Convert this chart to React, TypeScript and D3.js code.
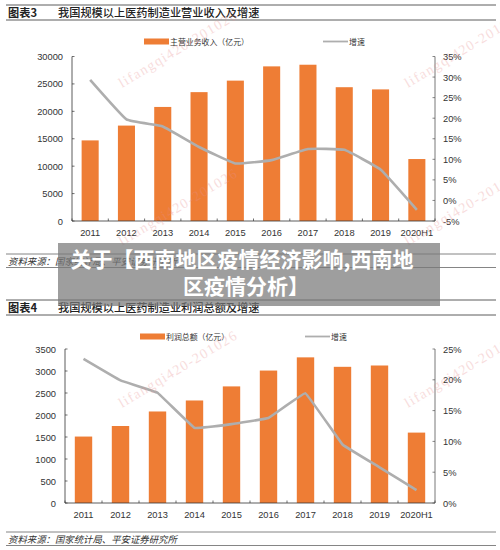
import React from "react";
import * as d3 from "d3";

const years = ["2011","2012","2013","2014","2015","2016","2017","2018","2019","2020H1"];
const revenue = [14700,17400,20800,23500,25600,28200,28500,24400,24000,11300];
const revenueGrowth = [29.3,19.7,18,13,9,9.8,12.5,12.3,7.5,-2.3];
const profit = [1510,1750,2080,2330,2650,3010,3310,3095,3125,1600];
const profitGrowth = [23.4,19.9,17.9,12.2,12.8,13.8,17.8,9.5,5.8,2.1];
const revenueTicks = [0,5000,10000,15000,20000,25000,30000];
const revenueGrowthTicks = [-5,0,5,10,15,20,25,30,35];
const profitTicks = [0,500,1000,1500,2000,2500,3000,3500];
const profitGrowthTicks = [0,5,10,15,20,25];

const SANS = "'Liberation Sans', Arial, sans-serif";
const CJK = "'Noto Sans CJK SC', sans-serif";
const ORANGE = "#ee7d35";
const GREY = "#aeaeae";
const TEXT = "#333";

type ChartProps = {
  x0: number; x1: number; yTop: number; yBottom: number;
  values: number[]; growth: number[];
  leftDomain: [number, number]; rightDomain: [number, number];
  leftTicks: number[]; rightTicks: number[];
  legendBarX: number; legendLineX: number; legendY: number; legendName: string;
  curve: d3.CurveFactory;
};

function Chart(p: ChartProps) {
  const x = d3.scaleBand<string>().domain(years).range([p.x0, p.x1]).paddingInner(0).paddingOuter(0);
  const yL = d3.scaleLinear().domain(p.leftDomain).range([p.yBottom, p.yTop]);
  const yR = d3.scaleLinear().domain(p.rightDomain).range([p.yBottom, p.yTop]);
  const barW = x.bandwidth() * 0.47;
  const cx = (d: string) => x(d)! + x.bandwidth() / 2;
  const line = d3.line<number>().x((_, i) => cx(years[i])).y(v => yR(v)).curve(p.curve);
  const edges = [...years.map(y => x(y)!), p.x1];
  return (
    <g>
      {years.map((y, i) => (
        <rect key={y} x={cx(y) - barW / 2} width={barW} y={yL(p.values[i])}
          height={p.yBottom - yL(p.values[i])} fill={ORANGE} />
      ))}
      <path d={line(p.growth) ?? ""} fill="none" stroke={GREY} strokeWidth={2.6} strokeLinejoin="round" />
      <line x1={p.x0} x2={p.x0} y1={p.yTop} y2={p.yBottom} stroke="#333" strokeWidth={0.8} />
      <line x1={p.x1} x2={p.x1} y1={p.yTop} y2={p.yBottom} stroke="#555" strokeWidth={0.8} />
      <line x1={p.x0} x2={p.x1} y1={p.yBottom} y2={p.yBottom} stroke="#333" strokeWidth={0.8} />
      {edges.map((e, i) => (
        <line key={i} x1={e} x2={e} y1={p.yBottom} y2={p.yBottom - 2.5} stroke="#333" strokeWidth={0.7} />
      ))}
      {p.leftTicks.map(t => (
        <g key={t}>
          <line x1={p.x0} x2={p.x0 + 2.5} y1={yL(t)} y2={yL(t)} stroke="#333" strokeWidth={0.7} />
          <text x={p.x0 - 9} y={yL(t) + 3.5} textAnchor="end" fontFamily={SANS} fontSize={9.3} fill={TEXT}>{t}</text>
        </g>
      ))}
      {p.rightTicks.map(t => (
        <g key={t}>
          <line x1={p.x1} x2={p.x1 - 2.5} y1={yR(t)} y2={yR(t)} stroke="#555" strokeWidth={0.7} />
          <text x={p.x1 + 8} y={yR(t) + 3.5} fontFamily={SANS} fontSize={9.3} fill={TEXT}>{t}%</text>
        </g>
      ))}
      {years.map(y => (
        <text key={y} x={cx(y)} y={p.yBottom + 14.5} textAnchor="middle" fontFamily={SANS} fontSize={9.3} fill={TEXT}>{y}</text>
      ))}
      <rect x={p.legendBarX} y={p.legendY - 3} width={25} height={6} fill={ORANGE} />
      <text x={p.legendBarX + 26} y={p.legendY + 3} fontFamily={CJK} fontSize={7.9} fill={TEXT}>{p.legendName}</text>
      <line x1={p.legendLineX} x2={p.legendLineX + 25} y1={p.legendY} y2={p.legendY} stroke={GREY} strokeWidth={1.8} />
      <text x={p.legendLineX + 26} y={p.legendY + 3} fontFamily={CJK} fontSize={7.9} fill={TEXT}>增速</text>
    </g>
  );
}

function Header({ y, num, title }: { y: number; num: string; title: string }) {
  return (
    <g>
      <line x1={6} x2={496} y1={y} y2={y} stroke="#333" strokeWidth={0.8} />
      <line x1={6} x2={496} y1={y + 15} y2={y + 15} stroke="#333" strokeWidth={0.8} />
      <text x={8} y={y + 12} fontFamily={CJK} fontWeight={700} fontSize={11.2} fill="#222">{num}</text>
      <text x={58} y={y + 12} fontFamily={CJK} fontWeight={500} fontSize={11.2} fill="#222">{title}</text>
    </g>
  );
}

function Source({ y }: { y: number }) {
  return (
    <g>
      <line x1={6} x2={496} y1={y} y2={y} stroke="#666" strokeWidth={0.8} />
      <line x1={6} x2={496} y1={y + 13.5} y2={y + 13.5} stroke="#666" strokeWidth={0.8} />
      <text x={8} y={y + 10.5} fontFamily={CJK} fontStyle="italic" fontSize={9.4} fill="#333" style={{ fontKerning: "none" }}>资料来源：国家统计局、平安证券研究所</text>
    </g>
  );
}

function Watermark({ x, y }: { x: number; y: number }) {
  return (
    <text transform={`translate(${x},${y}) rotate(-31)`} fontFamily="'Liberation Serif', serif" fontSize={14}
      letterSpacing={1.4} fill="#e88f8f" opacity={0.3}>lifangqi420-201026</text>
  );
}

export default function App() {
  return (
    <svg width={500} height={550} style={{ position: "absolute", left: 0, top: 0, background: "#fff" }}>
      <Header y={5} num="图表3" title="我国规模以上医药制造业营业收入及增速" />
      <Chart x0={72} x1={435} yTop={56.5} yBottom={221} values={revenue} growth={revenueGrowth}
        leftDomain={[0, 30000]} rightDomain={[-5, 35]} leftTicks={revenueTicks} rightTicks={revenueGrowthTicks}
        legendBarX={144} legendLineX={323} legendY={41.5} legendName="主营业务收入（亿元）" curve={d3.curveCardinal.tension(0.7)} />
      <Source y={254} />
      <Header y={300} num="图表4" title="我国规模以上医药制造业利润总额及增速" />
      <Chart x0={65} x1={435} yTop={349} yBottom={503} values={profit} growth={profitGrowth}
        leftDomain={[0, 3500]} rightDomain={[0, 25]} leftTicks={profitTicks} rightTicks={profitGrowthTicks}
        legendBarX={140} legendLineX={305} legendY={336.5} legendName="利润总额（亿元）" curve={d3.curveCardinal.tension(0.85)} />
      <Source y={532} />
      <Watermark x={122} y={88} />
      <Watermark x={408} y={88} />
      <Watermark x={122} y={246} />
      <Watermark x={408} y={246} />
      <Watermark x={122} y={408} />
      <Watermark x={408} y={408} />
      <rect x={58} y={243} width={382} height={63} fill="#787878" opacity={0.72} />
      <text x={242} y={267} textAnchor="middle" fontFamily={CJK} fontWeight={700} fontSize={21} fill="#fff" style={{ fontKerning: "none", fontFeatureSettings: "'chws' 0, 'palt' 0" }}>关于【西南地区疫情经济影响,西南地</text>
      <text x={246} y={294} textAnchor="middle" fontFamily={CJK} fontWeight={700} fontSize={21} fill="#fff" style={{ fontKerning: "none", fontFeatureSettings: "'chws' 0, 'palt' 0" }}>区疫情分析】</text>
    </svg>
  );
}
